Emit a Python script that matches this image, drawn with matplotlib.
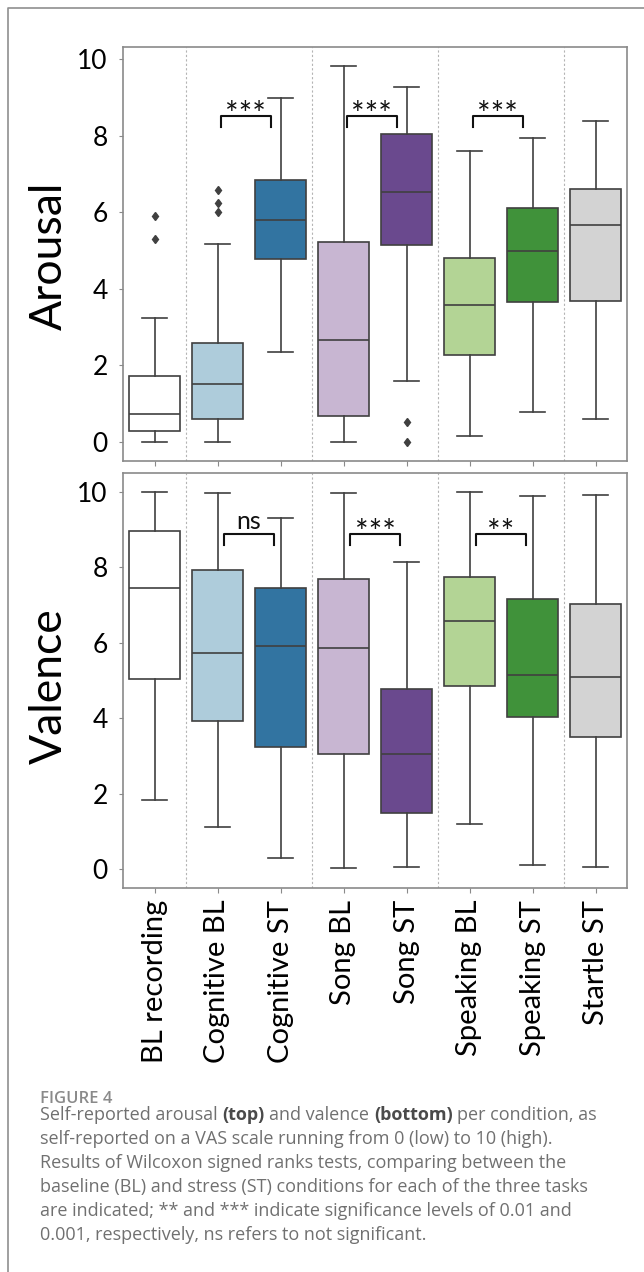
import matplotlib
matplotlib.use('Agg')
import matplotlib.pyplot as plt
from matplotlib.lines import Line2D
import seaborn as sns

W, H = 644, 1272

conditions = ['BL recording', 'Cognitive BL', 'Cognitive ST', 'Song BL', 'Song ST',
              'Speaking BL', 'Speaking ST', 'Startle ST']

# box statistics (0-10 VAS)
arousal_whislo = [0.00, 0.00, 2.34, 0.00, 1.60, 0.16, 0.79, 0.59]
arousal_q1 = [0.29, 0.59, 4.79, 0.67, 5.14, 2.26, 3.66, 3.69]
arousal_med = [0.74, 1.52, 5.79, 2.67, 6.54, 3.57, 5.00, 5.67]
arousal_q3 = [1.71, 2.58, 6.84, 5.22, 8.05, 4.80, 6.10, 6.62]
arousal_whishi = [3.23, 5.18, 8.98, 9.82, 9.27, 7.61, 7.93, 8.38]
arousal_fliers = [[5.31, 5.90], [6.00, 6.24, 6.58], [], [], [0.00, 0.52], [], [], []]

valence_whislo = [1.82, 1.12, 0.29, 0.02, 0.05, 1.20, 0.11, 0.05]
valence_q1 = [5.05, 3.92, 3.23, 3.05, 1.49, 4.86, 4.03, 3.50]
valence_med = [7.46, 5.72, 5.92, 5.86, 3.05, 6.57, 5.15, 5.10]
valence_q3 = [8.97, 7.92, 7.44, 7.68, 4.77, 7.75, 7.16, 7.03]
valence_whishi = [10.00, 9.97, 9.31, 9.97, 8.13, 9.99, 9.88, 9.93]
valence_fliers = [[], [], [], [], [], [], [], []]

# Wilcoxon BL vs ST per task
sig_pairs = [1, 3, 5]
arousal_sig = ['***', '***', '***']
valence_sig = ['ns', '***', '**']

caption_lines = [
    [('Self-reported arousal', False), ('(top)', True), ('and valence', False),
     ('(bottom)', True), ('per condition, as', False)],
    [('self-reported on a VAS scale running from 0 (low) to 10 (high).', False)],
    [('Results of Wilcoxon signed ranks tests, comparing between the', False)],
    [('baseline (BL) and stress (ST) conditions for each of the three tasks', False)],
    [('are indicated; ** and *** indicate significance levels of 0.01 and', False)],
    [('0.001, respectively, ns refers to not significant.', False)],
]

plt.rcParams['font.family'] = ['Lato', 'DejaVu Sans']

LINE = '#404040'
SPINE = '#8a8a8a'

pal = sns.color_palette('Paired')
box_colors = ['white', pal[0], pal[1], pal[8], pal[9], pal[2], pal[3], 'lightgray']
box_colors = [sns.desaturate(c, 0.75) for c in box_colors]


def draw_panel(ax, whislo, q1, med, q3, whishi, fliers, sig, ylim, br_y, br_shift):
    stats = []
    for i, name in enumerate(conditions):
        stats.append(dict(label=name, whislo=whislo[i], q1=q1[i], med=med[i],
                          q3=q3[i], whishi=whishi[i], fliers=fliers[i]))
    bp = ax.bxp(stats, positions=list(range(len(conditions))), widths=0.8,
                patch_artist=True,
                boxprops=dict(edgecolor=LINE, linewidth=1.2),
                medianprops=dict(color=LINE, linewidth=1.2),
                whiskerprops=dict(color=LINE, linewidth=1.2),
                capprops=dict(color=LINE, linewidth=1.2),
                flierprops=dict(marker='d', markerfacecolor=LINE,
                                markeredgecolor=LINE, markersize=4.5))
    for patch, c in zip(bp['boxes'], box_colors):
        patch.set_facecolor(c)

    for x in [0.5, 2.5, 4.5, 6.5]:
        ax.axvline(x, color='#b4b4b4', ls=(0, (2, 2)), lw=0.8, zorder=0)

    # significance brackets
    for i, lab in zip(sig_pairs, sig):
        x1, x2 = i + br_shift, i + br_shift + 0.8
        ax.plot([x1, x1, x2, x2], [br_y - 0.28, br_y, br_y, br_y - 0.28],
                color='#111111', lw=1.5)
        if '*' in lab:
            ax.text((x1 + x2) / 2, br_y - 0.24, lab, ha='center', va='baseline',
                    fontsize=23, color='#111111')
        else:
            ax.text((x1 + x2) / 2, br_y + 0.14, lab, ha='center', va='baseline',
                    fontsize=18, color='#111111')

    ax.set_xlim(-0.5, 7.5)
    ax.set_ylim(*ylim)
    ax.set_yticks([0, 2, 4, 6, 8, 10])
    for s in ax.spines.values():
        s.set_color(SPINE)
        s.set_linewidth(1.2)
    ax.tick_params(axis='y', labelsize=19, length=3, color=SPINE, pad=8)
    ax.tick_params(axis='x', length=3.5, color=SPINE, pad=5)


fig = plt.figure(figsize=(W / 100, H / 100), dpi=100)

ax1 = fig.add_axes([123 / W, 1 - 461 / H, 504 / W, 414 / H])
ax2 = fig.add_axes([123 / W, 1 - 888 / H, 504 / W, 415 / H])

draw_panel(ax1, arousal_whislo, arousal_q1, arousal_med, arousal_q3, arousal_whishi,
           arousal_fliers, arousal_sig, (-0.5, 10.32), 8.52, 0.05)
draw_panel(ax2, valence_whislo, valence_q1, valence_med, valence_q3, valence_whishi,
           valence_fliers, valence_sig, (-0.5, 10.5), 8.88, 0.1)

ax1.set_xticks(range(len(conditions)))
ax1.set_xticklabels([])
ax2.set_xticks(range(len(conditions)))
ax2.set_xticklabels(conditions, rotation=90, fontsize=21)

fig.text(49 / W, 1 - 256 / H, 'Arousal', rotation=90, ha='center', va='center', fontsize=32)
fig.text(49 / W, 1 - 686 / H, 'Valence', rotation=90, ha='center', va='center', fontsize=32)

# outer frame (left + top edge only)
fig.add_artist(Line2D([7.5 / W, 7.5 / W, 1], [0, 1 - 7.5 / H, 1 - 7.5 / H],
                      transform=fig.transFigure, color='#8f8f8f', lw=1.2))

# caption
renderer = fig.canvas.get_renderer()
CAP_FS = 13
CAP_FONT = ['Open Sans', 'DejaVu Sans']


def text_w(s, bold):
    t = fig.text(0, 0, s, fontsize=CAP_FS, family=CAP_FONT,
                 fontweight='bold' if bold else 'normal')
    w = t.get_window_extent(renderer).width
    t.remove()
    return w


space_w = text_w('n n', False) - text_w('nn', False)

fig.text(40 / W, 1 - 1103 / H, 'FIGURE 4', fontsize=12, family=CAP_FONT,
         fontweight='semibold', color='#8a8a8a', va='baseline')

y = 1120
for parts in caption_lines:
    x = 40
    for txt, bold in parts:
        fig.text(x / W, 1 - y / H, txt, fontsize=CAP_FS, va='baseline', family=CAP_FONT,
                 color='#4a4a4a' if bold else '#707070',
                 fontweight='bold' if bold else 'normal')
        x += text_w(txt, bold) + space_w
    y += 24

fig.savefig('out.png', dpi=100)
